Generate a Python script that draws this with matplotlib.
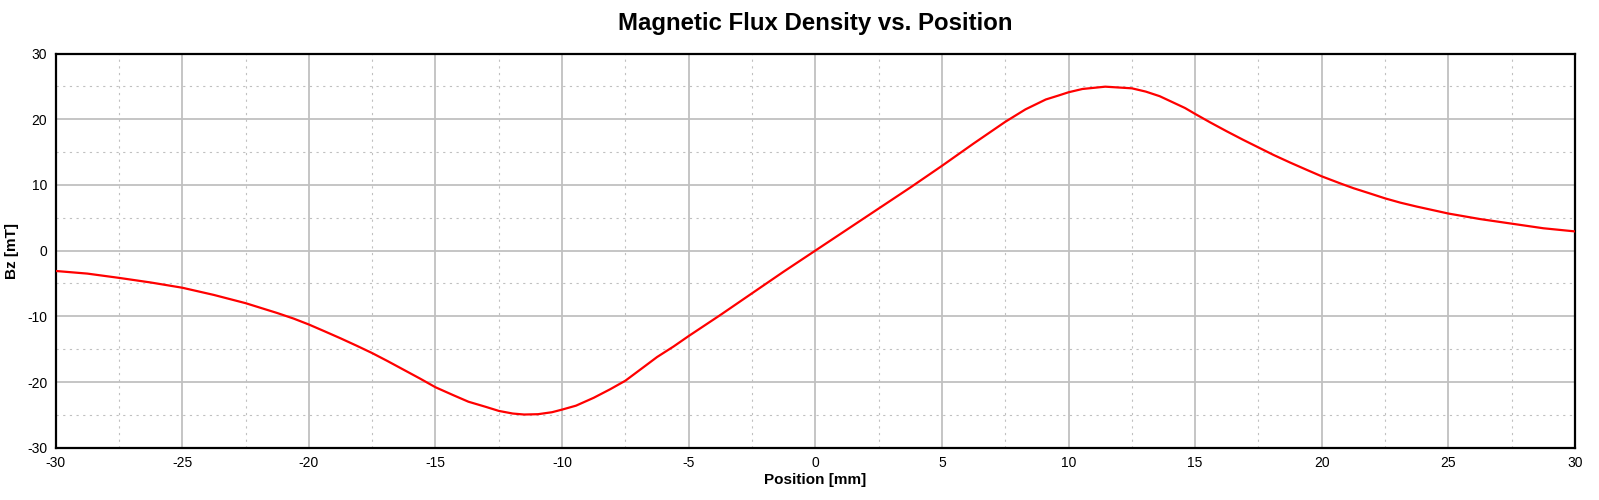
import matplotlib

matplotlib.use("Agg")
import matplotlib.pyplot as plt
from matplotlib.ticker import MultipleLocator

# Bz along the sensor axis
position_mm = [
    -30, -28.75, -27.5, -26.25, -25, -23.75, -22.5, -21.25, -20.6, -20,
    -19.4, -18.75, -18.1, -17.5, -16.9, -16.25, -15.6, -15, -14.3, -13.7,
    -13.0, -12.5, -11.95, -11.5, -10.95, -10.4, -10, -9.45, -8.75, -8.1,
    -7.5, -6.7, -6.25, -5.6, -5, -3.75, -2.5, -1.25, 0, 1.25,
    2.5, 3.75, 5, 6.25, 7.5, 8.3, 9.1, 9.6, 10, 10.55,
    11.45, 12.5, 13.05, 13.6, 14.1, 14.6, 15, 15.6, 16.25, 16.9,
    17.5, 18.1, 18.75, 19.4, 20, 20.75, 21.25, 21.9, 22.5, 23.1,
    23.75, 24.4, 25, 26.25, 27.5, 28.75, 30,
]
bz_mT = [
    -3.1, -3.5, -4.15, -4.85, -5.65, -6.75, -8.0, -9.5, -10.35, -11.25,
    -12.25, -13.35, -14.5, -15.6, -16.8, -18.15, -19.5, -20.8, -22.0, -23.0,
    -23.8, -24.4, -24.8, -24.95, -24.9, -24.6, -24.2, -23.6, -22.4, -21.1,
    -19.8, -17.5, -16.2, -14.6, -13.0, -9.8, -6.5, -3.2, 0.0, 3.2,
    6.4, 9.6, 12.9, 16.3, 19.6, 21.5, 23.0, 23.6, 24.1, 24.6,
    24.95, 24.7, 24.2, 23.5, 22.6, 21.7, 20.8, 19.5, 18.15, 16.85,
    15.7, 14.55, 13.4, 12.3, 11.3, 10.2, 9.5, 8.7, 7.95, 7.3,
    6.7, 6.15, 5.64, 4.8, 4.1, 3.4, 2.92,
]

x_ticks = [-30, -25, -20, -15, -10, -5, 0, 5, 10, 15, 20, 25, 30]
y_ticks = [-30, -20, -10, 0, 10, 20, 30]

fig = plt.figure(figsize=(15.99, 5.0), dpi=100)
ax = fig.add_axes([0.0348, 0.1046, 0.9502, 0.7884])

ax.plot(position_mm, bz_mT, color="#ff0000", lw=1.6, zorder=3,
        solid_joinstyle="round")

ax.set_xlim(-30, 30)
ax.set_ylim(-30, 30)
ax.set_xticks(x_ticks)
ax.set_yticks(y_ticks)
ax.xaxis.set_minor_locator(MultipleLocator(2.5))
ax.yaxis.set_minor_locator(MultipleLocator(5))

ax.grid(which="major", color="#c0c0c0", lw=1.3)
ax.grid(which="minor", color="#c0c0c0", lw=0.8, linestyle=(0, (2, 4)))
ax.set_axisbelow(True)

tick_font = {"family": "Liberation Sans", "size": 10}
ax.set_xticklabels([str(t) for t in x_ticks], fontdict=tick_font)
ax.set_yticklabels([str(t) for t in y_ticks], fontdict=tick_font)
ax.tick_params(which="both", length=0, pad=6)

for sp in ax.spines.values():
    sp.set_color("black")
    sp.set_linewidth(1.6)

ax.set_title("Magnetic Flux Density vs. Position", family="Liberation Sans",
             fontsize=17.3, fontweight="bold", pad=17)
ax.set_xlabel("Position [mm]", family="Liberation Sans", fontsize=11,
              fontweight="bold", labelpad=2)
ax.set_ylabel("Bz [mT]", family="Liberation Sans", fontsize=11,
              fontweight="bold", labelpad=6)

fig.savefig("out.png", dpi=100)
